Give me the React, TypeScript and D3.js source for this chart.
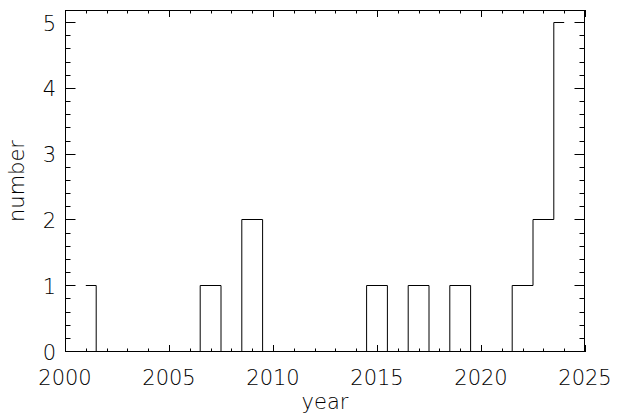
import React, { useEffect, useRef } from 'react';
import * as d3 from 'd3';

// number of entries per year (histogram, one bin per year)
const years = [2001, 2002, 2003, 2004, 2005, 2006, 2007, 2008, 2009, 2010, 2011, 2012,
  2013, 2014, 2015, 2016, 2017, 2018, 2019, 2020, 2021, 2022, 2023, 2024];
const counts = [1, 0, 0, 0, 0, 0, 1, 0, 2, 0, 0, 0, 0, 0, 1, 0, 1, 0, 1, 0, 0, 1, 2, 5];

const xTicks = [2000, 2005, 2010, 2015, 2020, 2025];
const yTicks = [0, 1, 2, 3, 4, 5];

const App = () => {
  const ref = useRef<SVGSVGElement>(null);

  useEffect(() => {
    const svg = d3.select(ref.current);
    svg.selectAll('*').remove();

    const width = 620;
    const height = 416;
    const left = 65, right = 585, top = 10, bottom = 352;

    const x = d3.scaleLinear().domain([2000, 2025]).range([left, right]);
    const y = d3.scaleLinear().domain([0, 5.2]).range([bottom, top]);

    svg.attr('width', width).attr('height', height);
    svg.append('rect').attr('width', width).attr('height', height).attr('fill', '#fff');

    const g = svg.append('g').attr('stroke', '#000').attr('stroke-width', 1).attr('fill', 'none');

    // frame
    g.append('rect')
      .attr('x', left + 0.5).attr('y', top + 0.5)
      .attr('width', right - left - 1).attr('height', bottom - top - 1);

    // x ticks, bottom and top
    d3.range(2000, 2026, 1).forEach(v => {
      const len = v % 5 === 0 ? 7 : 3.5;
      const px = Math.round(x(v)) + 0.5;
      g.append('line').attr('x1', px).attr('x2', px).attr('y1', bottom).attr('y2', bottom - len);
      g.append('line').attr('x1', px).attr('x2', px).attr('y1', top).attr('y2', top + len);
    });

    // y ticks, left and right (5 minor per unit)
    d3.range(0, 26).forEach(i => {
      const len = i % 5 === 0 ? 10.5 : 5.5;
      const py = Math.round(y(i * 0.2)) - 0.5;
      g.append('line').attr('y1', py).attr('y2', py).attr('x1', left).attr('x2', left + len);
      g.append('line').attr('y1', py).attr('y2', py).attr('x1', right).attr('x2', right - len);
    });

    // histogram steps
    const line = d3.line<number>()
      .x((d, i) => x(years[i]))
      .y(d => Math.round(y(d)) - 0.5)
      .curve(d3.curveStep);
    g.append('path').attr('d', line(counts));

    // labels
    const t = svg.append('g')
      .attr('fill', '#000')
      .attr('font-family', "'DejaVu Sans', sans-serif")
      .attr('font-weight', 200)
      .attr('font-size', 21);

    t.selectAll('.xl').data(xTicks).enter().append('text')
      .attr('x', d => x(d)).attr('y', 385)
      .attr('text-anchor', 'middle')
      .text(d => d);

    t.selectAll('.yl').data(yTicks).enter().append('text')
      .attr('x', 56).attr('y', d => y(d) + 7.5)
      .attr('text-anchor', 'end')
      .text(d => d);

    t.append('text').attr('x', (left + right) / 2).attr('y', 409)
      .attr('text-anchor', 'middle').text('year');

    t.append('text')
      .attr('transform', `translate(24,${(top + bottom) / 2}) rotate(-90)`)
      .attr('text-anchor', 'middle').text('number');
  }, []);

  return (
    <svg ref={ref} style={{ position: 'absolute', left: 0, top: 0 }} width={620} height={416} />
  );
};

export default App;
